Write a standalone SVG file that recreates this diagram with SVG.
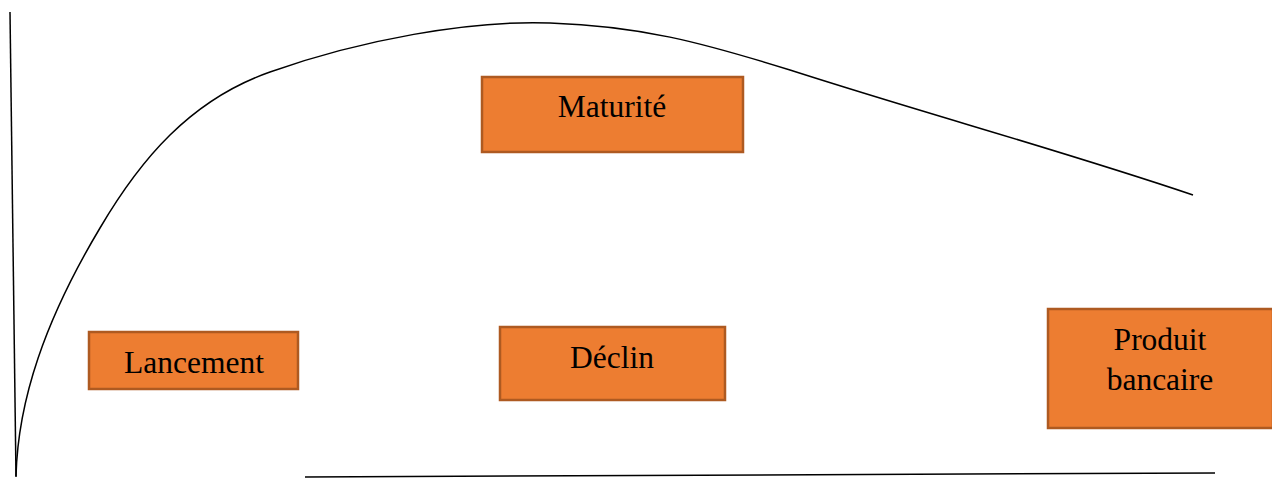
<svg xmlns="http://www.w3.org/2000/svg" width="1272" height="478" viewBox="0 0 1272 478">
  <style>
    .box { fill: #ED7D31; stroke: #AE5A21; stroke-width: 2.5; }
    .lbl { font-family: "Liberation Serif", "Times New Roman", serif; font-size: 31.5px; fill: #000; text-anchor: middle; }
    .ax { fill: none; stroke: #000; stroke-width: 1.5; }
  </style>
  <rect width="1272" height="478" fill="#fff"/>
  <g id="connectors">
    <!-- axes -->
    <path class="ax" d="M10,12 L16,477"/>
    <path class="ax" d="M305,477 L1215,473" stroke="#333"/>
    <!-- life-cycle curve -->
    <path class="ax" stroke-width="1.4" d="M16,476 C18,400 45,320 100,228 C140,160 190,100 270,72 C360,40 470,20 550,23 C640,26 700,42 790,70 C930,115 1060,150 1193,195"/>
  </g>
  <g id="maturite">
    <rect class="box" x="482" y="77" width="261" height="75"/>
    <text class="lbl" x="612" y="117">Maturité</text>
  </g>
  <g id="lancement">
    <rect class="box" x="89" y="332" width="209" height="57"/>
    <text class="lbl" x="194" y="373">Lancement</text>
  </g>
  <g id="declin">
    <rect class="box" x="500" y="327" width="225" height="73"/>
    <text class="lbl" x="612" y="368">Déclin</text>
  </g>
  <g id="produit-bancaire">
    <rect class="box" x="1048" y="309" width="225" height="119"/>
    <text class="lbl" x="1160" y="350">Produit</text>
    <text class="lbl" x="1160" y="390">bancaire</text>
  </g>
</svg>
